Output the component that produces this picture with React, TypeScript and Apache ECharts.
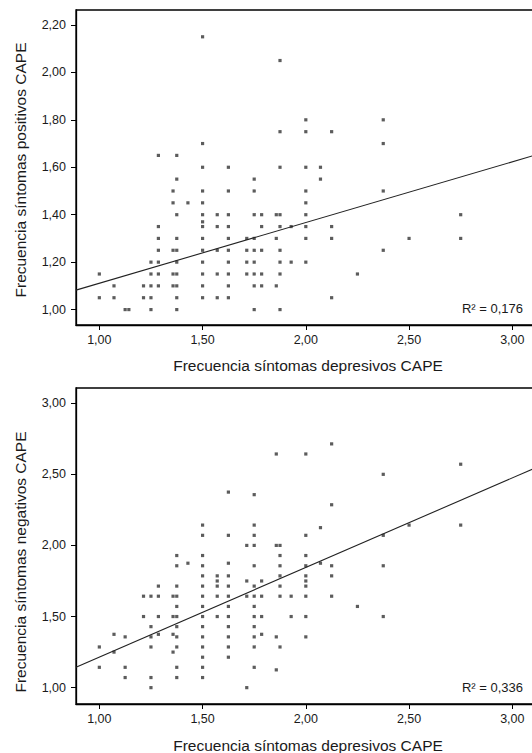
import React, { useEffect, useRef } from "react";
import * as echarts from "echarts";

// ---- data ----
const xTicks = [1.0, 1.5, 2.0, 2.5, 3.0];
const yTicksPos = [1.0, 1.2, 1.4, 1.6, 1.8, 2.0, 2.2];
const yTicksNeg = [1.0, 1.5, 2.0, 2.5, 3.0];

const xTitle = "Frecuencia síntomas depresivos CAPE";
const yTitlePos = "Frecuencia síntomas positivos CAPE";
const yTitleNeg = "Frecuencia síntomas negativos CAPE";
const r2Pos = "R² = 0,176";
const r2Neg = "R² = 0,336";

// regression: [intercept, slope]
const regPos = [0.855, 0.256];
const regNeg = [0.585, 0.63];

// [depresivos, positivos]
const pointsPos: [number, number][] = [
  [1.5, 2.15],
  [1.875, 2.05],
  [2.0, 1.8], [2.375, 1.8],
  [1.875, 1.75], [2.0, 1.75], [2.125, 1.75],
  [1.5, 1.7], [2.375, 1.7],
  [1.286, 1.65], [1.375, 1.65],
  [1.5, 1.6], [1.625, 1.6], [1.875, 1.6], [2.0, 1.6], [2.071, 1.6],
  [1.375, 1.55], [1.75, 1.55], [2.071, 1.55],
  [1.357, 1.5], [1.5, 1.5], [1.625, 1.5], [1.75, 1.5], [2.0, 1.5], [2.375, 1.5],
  [1.357, 1.45], [1.429, 1.45], [1.5, 1.45], [2.0, 1.45],
  [1.375, 1.4], [1.5, 1.4], [1.571, 1.4], [1.625, 1.4], [1.75, 1.4], [1.786, 1.4], [1.857, 1.4], [1.875, 1.4], [2.0, 1.4], [2.75, 1.4],
  [1.5, 1.37],
  [1.286, 1.35], [1.5, 1.35], [1.571, 1.35], [1.625, 1.35], [1.786, 1.35], [1.875, 1.35], [1.929, 1.35], [2.0, 1.35], [2.125, 1.35],
  [1.286, 1.3], [1.375, 1.3], [1.5, 1.3], [1.625, 1.3], [1.714, 1.3], [1.75, 1.3], [1.857, 1.3], [2.0, 1.3], [2.125, 1.3], [2.5, 1.3], [2.75, 1.3],
  [1.286, 1.25], [1.357, 1.25], [1.375, 1.25], [1.5, 1.25], [1.571, 1.25], [1.625, 1.25], [1.714, 1.25], [1.75, 1.25], [1.786, 1.25], [1.875, 1.25], [2.375, 1.25],
  [1.25, 1.2], [1.286, 1.2], [1.375, 1.2], [1.5, 1.2], [1.625, 1.2], [1.714, 1.2], [1.75, 1.2], [1.875, 1.2], [1.929, 1.2], [2.0, 1.2],
  [1.0, 1.15], [1.25, 1.15], [1.286, 1.15], [1.357, 1.15], [1.375, 1.15], [1.5, 1.15], [1.571, 1.15], [1.625, 1.15], [1.714, 1.15], [1.75, 1.15], [1.786, 1.15], [1.875, 1.15], [2.25, 1.15],
  [1.071, 1.1], [1.214, 1.1], [1.25, 1.1], [1.286, 1.1], [1.357, 1.1], [1.375, 1.1], [1.5, 1.1], [1.625, 1.1], [1.75, 1.1], [1.786, 1.1], [1.857, 1.1],
  [1.0, 1.05], [1.071, 1.05], [1.214, 1.05], [1.25, 1.05], [1.375, 1.05], [1.5, 1.05], [1.571, 1.05], [1.625, 1.05], [2.125, 1.05],
  [1.125, 1.0], [1.143, 1.0], [1.25, 1.0], [1.375, 1.0], [1.75, 1.0], [1.875, 1.0],
];

// [depresivos, negativos]
const pointsNeg: [number, number][] = [
  [2.125, 2.714],
  [1.857, 2.643], [2.0, 2.643],
  [2.75, 2.571],
  [2.375, 2.5],
  [1.625, 2.375],
  [1.75, 2.357],
  [2.125, 2.286],
  [1.5, 2.143], [1.75, 2.143], [2.5, 2.143], [2.75, 2.143],
  [2.071, 2.125],
  [1.5, 2.071], [1.625, 2.071], [1.75, 2.071], [2.0, 2.071], [2.375, 2.071],
  [1.714, 2.0], [1.75, 2.0], [1.857, 2.0], [1.875, 2.0],
  [1.375, 1.929], [1.5, 1.929], [1.875, 1.929], [2.0, 1.929],
  [1.429, 1.875], [1.625, 1.875], [2.071, 1.875],
  [1.375, 1.857], [1.5, 1.857], [1.75, 1.857], [1.875, 1.857], [2.0, 1.857], [2.125, 1.857], [2.375, 1.857],
  [1.5, 1.786], [1.571, 1.786], [1.625, 1.786], [1.875, 1.786], [2.0, 1.786], [2.125, 1.786],
  [1.571, 1.75], [1.714, 1.75], [1.786, 1.75], [2.0, 1.75],
  [1.286, 1.714], [1.375, 1.714], [1.5, 1.714], [1.571, 1.714], [1.625, 1.714], [1.75, 1.714], [1.875, 1.714], [2.0, 1.714],
  [1.214, 1.643], [1.25, 1.643], [1.286, 1.643], [1.357, 1.643], [1.375, 1.643], [1.5, 1.643], [1.571, 1.643], [1.625, 1.643], [1.714, 1.643], [1.75, 1.643], [1.786, 1.643], [1.875, 1.643], [1.929, 1.643], [2.0, 1.643], [2.125, 1.643],
  [1.375, 1.571], [1.5, 1.571], [1.625, 1.571], [1.75, 1.571], [2.25, 1.571],
  [1.214, 1.5], [1.286, 1.5], [1.357, 1.5], [1.375, 1.5], [1.5, 1.5], [1.571, 1.5], [1.625, 1.5], [1.75, 1.5], [1.786, 1.5], [1.929, 1.5], [2.0, 1.5], [2.375, 1.5],
  [1.25, 1.429], [1.375, 1.429], [1.5, 1.429], [1.625, 1.429], [1.75, 1.429],
  [1.071, 1.375], [1.286, 1.375], [1.357, 1.375], [1.786, 1.375],
  [1.125, 1.357], [1.25, 1.357], [1.375, 1.357], [1.5, 1.357], [1.625, 1.357], [1.75, 1.357], [1.857, 1.357], [2.0, 1.357],
  [1.0, 1.286], [1.25, 1.286], [1.375, 1.286], [1.5, 1.286], [1.625, 1.286], [1.75, 1.286], [1.875, 1.286],
  [1.071, 1.25], [1.357, 1.25],
  [1.5, 1.214], [1.625, 1.214],
  [1.0, 1.143], [1.125, 1.143], [1.375, 1.143], [1.5, 1.143], [1.75, 1.143],
  [1.857, 1.125],
  [1.125, 1.071], [1.25, 1.071], [1.375, 1.071], [1.5, 1.071],
  [1.25, 1.0], [1.714, 1.0],
];

const X_MIN = 0.887;
const X_MAX = 3.231;
const FONT = "'Liberation Sans', Arial, Helvetica, sans-serif";
const TEXT = "#1a1a1a";

const fmt = (v: number) => v.toFixed(2).replace(".", ",");

function regLine(c: number[]) {
  return [X_MIN, X_MAX].map((x) => [x, c[0] + c[1] * x]);
}

export default function App() {
  const ref = useRef<HTMLDivElement>(null);
  useEffect(() => {
    if (!ref.current) return;
    const chart = echarts.init(ref.current, null, { renderer: "svg" });

    const xAxisBase = (gridIndex: number) => ({
      type: "value" as const,
      gridIndex,
      min: X_MIN,
      max: X_MAX,
      axisLine: { show: true, onZero: false, lineStyle: { color: "#000", width: 1.3 } },
      axisTick: { show: true, customValues: xTicks, length: 5, lineStyle: { color: "#000", width: 1 } },
      axisLabel: {
        customValues: xTicks,
        formatter: fmt,
        fontSize: 12.5,
        fontFamily: FONT,
        color: TEXT,
        margin: 8,
      },
      splitLine: { show: false },
    });

    const yAxisBase = (gridIndex: number, min: number, max: number, ticks: number[]) => ({
      type: "value" as const,
      gridIndex,
      min,
      max,
      axisLine: { show: true, onZero: false, lineStyle: { color: "#000", width: 1.3 } },
      axisTick: { show: true, customValues: ticks, length: 5, lineStyle: { color: "#000", width: 1 } },
      axisLabel: {
        customValues: ticks,
        formatter: fmt,
        fontSize: 12.5,
        fontFamily: FONT,
        color: TEXT,
        margin: 10,
      },
      splitLine: { show: false },
    });

    const scatterStyle = {
      symbol: "rect",
      symbolSize: 3.2,
      itemStyle: { color: "#333333" },
    };

    chart.setOption({
      animation: false,
      backgroundColor: "#fff",
      grid: [
        { left: 76, right: 40, top: 10, height: 315, show: true, borderColor: "#000", borderWidth: 1.3, backgroundColor: "transparent" },
        { left: 76, right: 40, top: 388, height: 316, show: true, borderColor: "#000", borderWidth: 1.3, backgroundColor: "transparent" },
      ],
      xAxis: [xAxisBase(0), xAxisBase(1)],
      yAxis: [
        yAxisBase(0, 0.935, 2.263, yTicksPos),
        yAxisBase(1, 0.885, 3.107, yTicksNeg),
      ],
      series: [
        { type: "scatter", xAxisIndex: 0, yAxisIndex: 0, data: pointsPos, ...scatterStyle },
        {
          type: "line", xAxisIndex: 0, yAxisIndex: 0, data: regLine(regPos),
          symbol: "none", lineStyle: { color: "#222", width: 1.1 },
        },
        { type: "scatter", xAxisIndex: 1, yAxisIndex: 1, data: pointsNeg, ...scatterStyle },
        {
          type: "line", xAxisIndex: 1, yAxisIndex: 1, data: regLine(regNeg),
          symbol: "none", lineStyle: { color: "#222", width: 1.1 },
        },
      ],
      graphic: [
        {
          type: "text", x: 308, y: 365,
          style: { text: xTitle, fontSize: 15.5, fontFamily: FONT, fill: TEXT, textAlign: "center", textVerticalAlign: "middle" },
        },
        {
          type: "text", x: 308, y: 745,
          style: { text: xTitle, fontSize: 15.5, fontFamily: FONT, fill: TEXT, textAlign: "center", textVerticalAlign: "middle" },
        },
        {
          type: "text", x: 20, y: 170, rotation: Math.PI / 2,
          style: { text: yTitlePos, fontSize: 15.5, fontFamily: FONT, fill: TEXT, textAlign: "center", textVerticalAlign: "middle" },
        },
        {
          type: "text", x: 20, y: 562, rotation: Math.PI / 2,
          style: { text: yTitleNeg, fontSize: 15.5, fontFamily: FONT, fill: TEXT, textAlign: "center", textVerticalAlign: "middle" },
        },
        {
          type: "text", x: 523, y: 308,
          style: { text: r2Pos, fontSize: 13, fontFamily: FONT, fill: TEXT, textAlign: "right", textVerticalAlign: "middle" },
        },
        {
          type: "text", x: 523, y: 687,
          style: { text: r2Neg, fontSize: 13, fontFamily: FONT, fill: TEXT, textAlign: "right", textVerticalAlign: "middle" },
        },
      ],
    });
    return () => chart.dispose();
  }, []);

  return (
    <div style={{ position: "absolute", left: 0, top: 0, width: 532, height: 753, overflow: "hidden", background: "#fff" }}>
      <div ref={ref} style={{ width: 600, height: 753 }} />
    </div>
  );
}
